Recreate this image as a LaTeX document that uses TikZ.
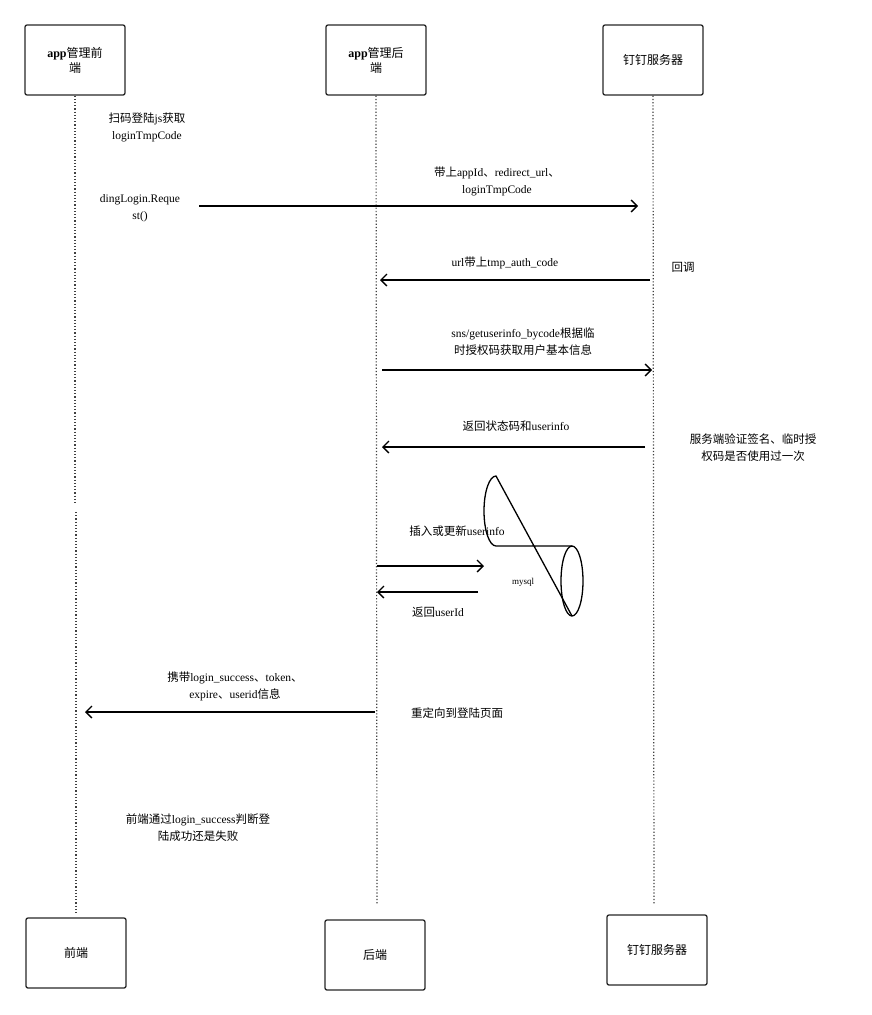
\documentclass[tikz,border=0pt]{standalone}
\usepackage{fontspec}
\setmainfont{Liberation Serif}
\newfontfamily\cjk{Noto Sans CJK SC}
\usetikzlibrary{arrows.meta}
\begin{document}
\begin{tikzpicture}[x=1pt,y=-1pt,
  actor/.style={draw=black!85,line width=1.3pt,rounded corners=2pt,minimum width=100pt,minimum height=70pt,align=center,font=\fontsize{12}{15}\selectfont},
  life/.style={dotted,line width=1.2pt,black!75},
  msg/.style={line width=1.3pt,-{Straight Barb[length=6pt,width=12pt]}},
  lbl/.style={align=center,font=\fontsize{11.5}{17}\selectfont}]
\useasboundingbox (0,0) rectangle (871,1015);
\node[actor] (a1) at (75,60) {\textbf{app}{\cjk 管理前}\\{\cjk 端}};
\node[actor] (a2) at (376,60) {\textbf{app}{\cjk 管理后}\\{\cjk 端}};
\node[actor] (a3) at (653,60) {{\cjk 钉钉服务器}};
\node[actor] (b1) at (76,953) {{\cjk 前端}};
\node[actor] (b2) at (375,955) {{\cjk 后端}};
\node[actor] (b3) at (657,950) {{\cjk 钉钉服务器}};
\coordinate (l1e) at (76,915);
\coordinate (l2e) at (377,905);
\coordinate (l3e) at (654,905);
\draw[life] (a1.south) -- (75,505);
\draw[life] (76,512) -- (l1e);
\draw[life] (a2.south) -- (l2e);
\draw[life] (a3.south) -- (l3e);
\node[lbl] (t1) at (147,127) {{\cjk 扫码登陆}js{\cjk 获取}\\loginTmpCode};
\node[lbl] (t2) at (140,208) {dingLogin.Reque\\st()};
\coordinate (m1s) at (199,206); \coordinate (m1e) at (638,206);
\draw[msg] (m1s) -- (m1e);
\node[lbl] at (497,181) {{\cjk 带上}appId{\cjk 、}redirect\_url{\cjk 、}\\loginTmpCode};
\coordinate (m2s) at (650,280); \coordinate (m2e) at (380,280);
\draw[msg] (m2s) -- (m2e);
\node[lbl] at (505,263) {url{\cjk 带上}tmp\_auth\_code};
\node[lbl] at (683,267) {{\cjk 回调}};
\coordinate (m3s) at (382,370); \coordinate (m3e) at (652,370);
\draw[msg] (m3s) -- (m3e);
\node[lbl] at (523,342) {sns/getuserinfo\_bycode{\cjk 根据临}\\{\cjk 时授权码获取用户基本信息}};
\coordinate (m4s) at (645,447); \coordinate (m4e) at (382,447);
\draw[msg] (m4s) -- (m4e);
\node[lbl] at (516,426) {{\cjk 返回状态码和}userinfo};
\node[lbl] at (753,448) {{\cjk 服务端验证签名、临时授}\\{\cjk 权码是否使用过一次}};
\node[lbl] at (457,531) {{\cjk 插入或更新}userinfo};
\draw[line width=1.3pt] (572,546) -- (496,546) arc[start angle=90,end angle=270,x radius=12,y radius=35] -- (572,616);
\draw[line width=1.3pt] (572,581) ellipse [x radius=11,y radius=35];
\node[font=\fontsize{9}{11}\selectfont] (db) at (523,582) {mysql};
\coordinate (m5s) at (377,566); \coordinate (m5e) at (484,566);
\draw[msg] (m5s) -- (m5e);
\coordinate (m6s) at (478,592); \coordinate (m6e) at (377,592);
\draw[msg] (m6s) -- (m6e);
\node[lbl] at (438,612) {{\cjk 返回}userId};
\coordinate (m7s) at (375,712); \coordinate (m7e) at (85,712);
\draw[msg] (m7s) -- (m7e);
\node[lbl] at (235,686) {{\cjk 携带}login\_success{\cjk 、}token{\cjk 、}\\expire{\cjk 、}userid{\cjk 信息}};
\node[lbl] at (457,713) {{\cjk 重定向到登陆页面}};
\node[lbl] at (198,828) {{\cjk 前端通过}login\_success{\cjk 判断登}\\{\cjk 陆成功还是失败}};
\end{tikzpicture}
\end{document}
